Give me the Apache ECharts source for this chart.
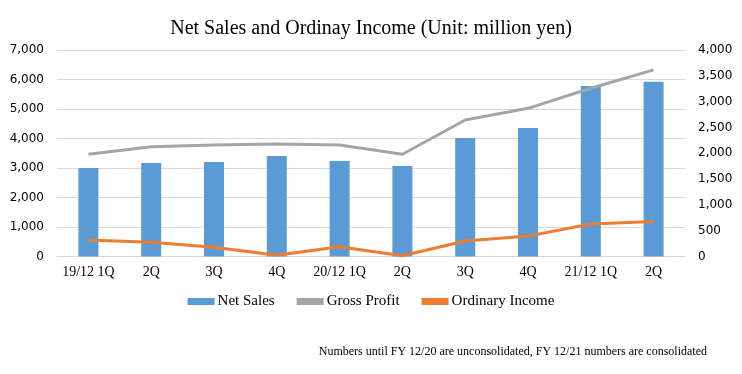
<!DOCTYPE html>
<html>
<head>
<meta charset="utf-8">
<script src="https://cdn.jsdelivr.net/npm/echarts@6/dist/echarts.min.js"></script>
<style>html,body{margin:0;padding:0;background:#fff}#c{width:742px;height:374px}</style>
</head>
<body>
<div id="c"></div>
<script>
const categories = ['19/12 1Q','2Q','3Q','4Q','20/12 1Q','2Q','3Q','4Q','21/12 1Q','2Q'];
const netSales = [3000, 3170, 3200, 3410, 3240, 3070, 4020, 4360, 5780, 5920];
const grossProfit = [1980, 2125, 2160, 2180, 2160, 1980, 2645, 2870, 3260, 3615];
const ordinaryIncome = [320, 275, 180, 25, 190, 15, 300, 395, 630, 680];
const leftTicks = {min: 0, max: 7000, interval: 1000};
const rightTicks = {min: 0, max: 4000, interval: 500};

const chart = echarts.init(document.getElementById('c'), null, {renderer: 'canvas'});
const serif = '"Liberation Serif", "Times New Roman", serif';
const sans = '"DejaVu Sans", Verdana, sans-serif';
chart.setOption({
  animation: false,
  title: {
    text: 'Net Sales and Ordinay Income (Unit: million yen)',
    left: 'center', top: 14,
    textStyle: {fontFamily: serif, fontSize: 20, fontWeight: 'normal', color: '#000'}
  },
  legend: {
    bottom: 60, left: 'center', itemGap: 22, itemWidth: 27, itemHeight: 7,
    textStyle: {fontFamily: serif, fontSize: 15, color: '#000', padding: [0, 0, 0, -2]},
    data: [
      {name: 'Net Sales', icon: 'rect'},
      {name: 'Gross Profit', icon: 'rect', itemStyle: {color: '#A5A5A5'}},
      {name: 'Ordinary Income', icon: 'rect', itemStyle: {color: '#ED7D31'}}
    ]
  },
  graphic: [{
    type: 'text', right: 35, top: 346,
    style: {text: 'Numbers until FY 12/20 are unconsolidated, FY 12/21 numbers are consolidated',
      font: '12px ' + serif, fill: '#000'}
  }],
  grid: {left: 57, right: 57, top: 50, bottom: 117.5},
  xAxis: {
    type: 'category', data: categories,
    axisTick: {show: false},
    axisLine: {lineStyle: {color: '#D9D9D9'}},
    axisLabel: {fontFamily: serif, fontSize: 14, color: '#000', margin: 9, interval: 0}
  },
  yAxis: [{
    type: 'value', min: leftTicks.min, max: leftTicks.max, interval: leftTicks.interval,
    axisLabel: {fontFamily: sans, fontSize: 12, color: '#000', margin: 13,
      formatter: v => v.toLocaleString('en-US')},
    splitLine: {lineStyle: {color: '#D9D9D9'}},
    axisLine: {show: false}, axisTick: {show: false}
  }, {
    type: 'value', min: rightTicks.min, max: rightTicks.max, interval: rightTicks.interval,
    axisLabel: {fontFamily: sans, fontSize: 12, color: '#000', margin: 13,
      formatter: v => v.toLocaleString('en-US')},
    splitLine: {show: false},
    axisLine: {show: false}, axisTick: {show: false}
  }],
  series: [{
    name: 'Net Sales', type: 'bar', data: netSales, barWidth: 20,
    itemStyle: {color: '#5B9BD5'}
  }, {
    name: 'Gross Profit', type: 'line', yAxisIndex: 1, data: grossProfit,
    symbol: 'none', lineStyle: {color: '#A5A5A5', width: 3}, itemStyle: {color: '#A5A5A5'}
  }, {
    name: 'Ordinary Income', type: 'line', yAxisIndex: 1, data: ordinaryIncome,
    symbol: 'none', lineStyle: {color: '#ED7D31', width: 3}, itemStyle: {color: '#ED7D31'}
  }]
});
</script>
</body>
</html>
